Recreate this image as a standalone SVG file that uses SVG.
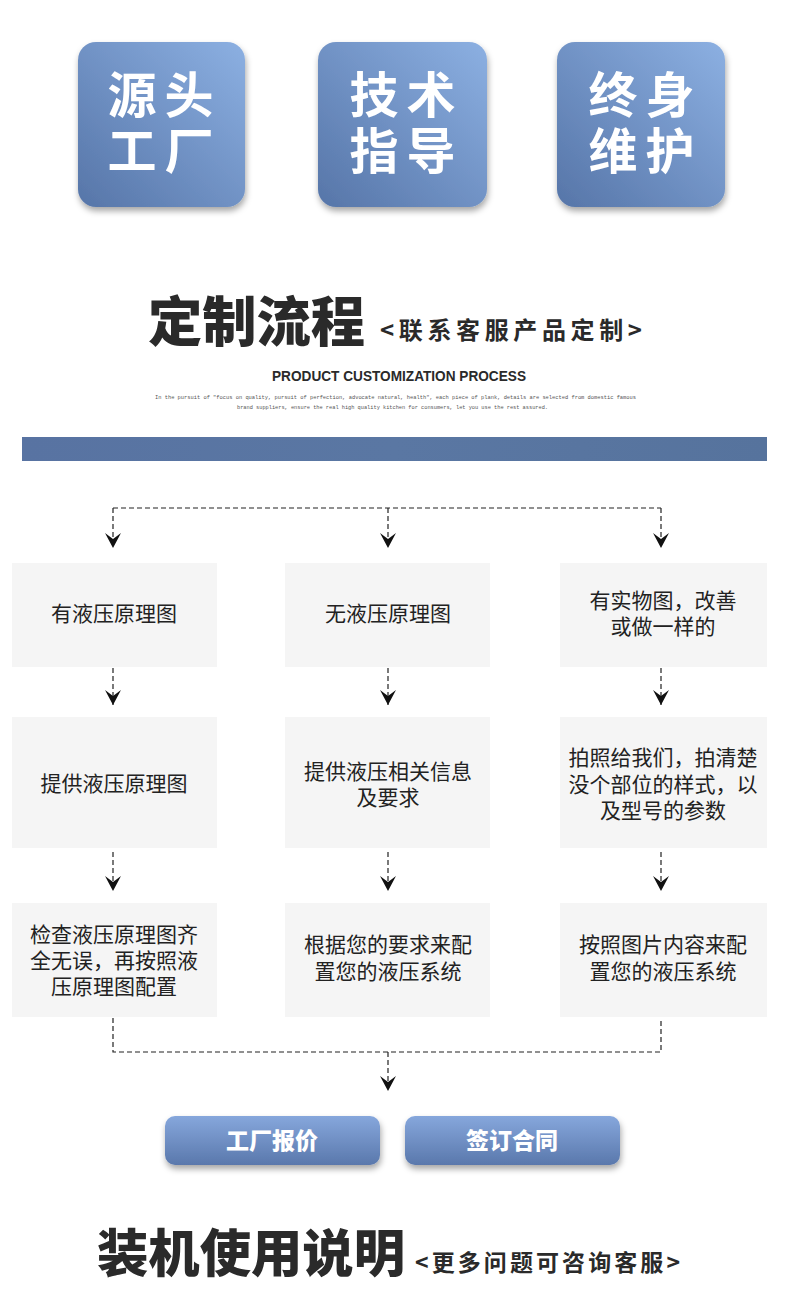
<svg xmlns="http://www.w3.org/2000/svg" width="790" height="1294" viewBox="0 0 790 1294">
<defs>
<linearGradient id="gTop" x1="1" y1="0" x2="0" y2="1">
<stop offset="0" stop-color="#8cb0e2"/>
<stop offset="1" stop-color="#5675a8"/>
</linearGradient>
<linearGradient id="gBtn" x1="0" y1="0" x2="0" y2="1">
<stop offset="0" stop-color="#86a7dc"/>
<stop offset="1" stop-color="#5a78ac"/>
</linearGradient>
<linearGradient id="gBar" x1="0" y1="0" x2="1" y2="0">
<stop offset="0" stop-color="#5873a2"/>
<stop offset="0.5" stop-color="#5a77a3"/>
<stop offset="1" stop-color="#56739d"/>
</linearGradient>
<filter id="shadow" x="-20%" y="-20%" width="140%" height="150%">
<feDropShadow dx="1" dy="4" stdDeviation="3" flood-color="#000" flood-opacity="0.35"/>
</filter>
<marker id="arr" markerUnits="userSpaceOnUse" markerWidth="18" markerHeight="18" viewBox="-16 -9 18 18" refX="0" refY="0" orient="auto">
<path d="M0,0 L-15,-8 L-9,0 L-15,8 Z" fill="#111"/>
</marker>
<style>
.big{font-family:"Liberation Sans","Noto Sans CJK SC",sans-serif;font-weight:700;fill:#fff;font-size:49px;text-anchor:middle}
.node{fill:#f5f5f5}
.t{font-family:"Liberation Sans","Noto Sans CJK SC",sans-serif;font-size:21px;fill:#222;text-anchor:middle}
.btn{font-family:"Noto Sans CJK SC",sans-serif;font-weight:900;font-size:23px;fill:#fff;text-anchor:middle}
.dash{fill:none;stroke:#222;stroke-width:1.2;stroke-dasharray:5 3}
.title{font-family:"Noto Sans CJK SC",sans-serif;font-weight:900;fill:#2a2a2a}
.sub{font-family:"Noto Sans CJK SC",sans-serif;font-weight:700;fill:#2a2a2a}
</style>
</defs>
<rect width="790" height="1294" fill="#fff"/>

<g id="box-source-factory">
<rect x="78" y="42" width="167" height="165" rx="18" fill="url(#gTop)" filter="url(#shadow)"/>
<text class="big"><tspan x="132" y="113">源</tspan><tspan x="189" y="113">头</tspan><tspan x="132" y="169">工</tspan><tspan x="189" y="169">厂</tspan></text>
</g>
<g id="box-tech-guidance">
<rect x="318" y="42" width="169" height="165" rx="18" fill="url(#gTop)" filter="url(#shadow)"/>
<text class="big"><tspan x="374" y="113">技</tspan><tspan x="431" y="113">术</tspan><tspan x="374" y="169">指</tspan><tspan x="431" y="169">导</tspan></text>
</g>
<g id="box-lifetime-maintenance">
<rect x="557" y="42" width="168" height="165" rx="18" fill="url(#gTop)" filter="url(#shadow)"/>
<text class="big"><tspan x="613" y="113">终</tspan><tspan x="670" y="113">身</tspan><tspan x="613" y="169">维</tspan><tspan x="670" y="169">护</tspan></text>
</g>

<text class="title" x="148" y="342" font-size="54" textLength="217" lengthAdjust="spacingAndGlyphs">定制流程</text>
<text class="sub" x="380" y="339" font-size="24" textLength="262" lengthAdjust="spacing">&lt;联系客服产品定制&gt;</text>
<text x="399" y="381" font-family="Liberation Sans, sans-serif" font-weight="700" font-size="15" fill="#2a2a2a" text-anchor="middle" textLength="254" lengthAdjust="spacingAndGlyphs">PRODUCT CUSTOMIZATION PROCESS</text>
<text x="155" y="399" font-family="Liberation Mono, monospace" font-size="5.5" fill="#555" textLength="481" lengthAdjust="spacingAndGlyphs">In the pursuit of "focus on quality, pursuit of perfection, advocate natural, health", each piece of plank, details are selected from domestic famous</text>
<text x="237" y="409" font-family="Liberation Mono, monospace" font-size="5.5" fill="#555" textLength="311" lengthAdjust="spacingAndGlyphs">brand suppliers, ensure the real high quality kitchen for consumers, let you use the rest assured.</text>

<rect x="22" y="437" width="745" height="24" fill="url(#gBar)"/>

<g id="connectors">
<path class="dash" d="M113,508 H661"/>
<path class="dash" d="M113,508 V548" marker-end="url(#arr)"/>
<path class="dash" d="M388,508 V548" marker-end="url(#arr)"/>
<path class="dash" d="M661,508 V548" marker-end="url(#arr)"/>
<path class="dash" d="M113,668 V705" marker-end="url(#arr)"/>
<path class="dash" d="M388,668 V705" marker-end="url(#arr)"/>
<path class="dash" d="M661,668 V705" marker-end="url(#arr)"/>
<path class="dash" d="M113,852 V891" marker-end="url(#arr)"/>
<path class="dash" d="M388,852 V891" marker-end="url(#arr)"/>
<path class="dash" d="M661,852 V891" marker-end="url(#arr)"/>
<path class="dash" d="M113,1018 V1052 H661 V1018"/>
<path class="dash" d="M388,1052 V1091" marker-end="url(#arr)"/>
</g>

<g id="n1-1"><rect class="node" x="12" y="563" width="205" height="104"/>
<text class="t" x="114" y="621">有液压原理图</text></g>
<g id="n1-2"><rect class="node" x="285" y="563" width="205" height="104"/>
<text class="t" x="388" y="621">无液压原理图</text></g>
<g id="n1-3"><rect class="node" x="560" y="563" width="207" height="104"/>
<text class="t"><tspan x="663" y="608">有实物图，改善</tspan><tspan x="663" y="634">或做一样的</tspan></text></g>

<g id="n2-1"><rect class="node" x="12" y="717" width="205" height="131"/>
<text class="t" x="114" y="791">提供液压原理图</text></g>
<g id="n2-2"><rect class="node" x="285" y="717" width="205" height="131"/>
<text class="t"><tspan x="388" y="779">提供液压相关信息</tspan><tspan x="388" y="805">及要求</tspan></text></g>
<g id="n2-3"><rect class="node" x="560" y="717" width="207" height="131"/>
<text class="t"><tspan x="663" y="765">拍照给我们，拍清楚</tspan><tspan x="663" y="792">没个部位的样式，以</tspan><tspan x="663" y="818">及型号的参数</tspan></text></g>

<g id="n3-1"><rect class="node" x="12" y="903" width="205" height="114"/>
<text class="t"><tspan x="114" y="942">检查液压原理图齐</tspan><tspan x="114" y="968">全无误，再按照液</tspan><tspan x="114" y="994">压原理图配置</tspan></text></g>
<g id="n3-2"><rect class="node" x="285" y="903" width="205" height="114"/>
<text class="t"><tspan x="388" y="952">根据您的要求来配</tspan><tspan x="388" y="979">置您的液压系统</tspan></text></g>
<g id="n3-3"><rect class="node" x="560" y="903" width="207" height="114"/>
<text class="t"><tspan x="663" y="952">按照图片内容来配</tspan><tspan x="663" y="979">置您的液压系统</tspan></text></g>

<g id="btn-quote">
<rect x="165" y="1116" width="215" height="49" rx="10" fill="url(#gBtn)" filter="url(#shadow)"/>
<text class="btn" x="272" y="1149">工厂报价</text>
</g>
<g id="btn-contract">
<rect x="405" y="1116" width="215" height="49" rx="10" fill="url(#gBtn)" filter="url(#shadow)"/>
<text class="btn" x="512" y="1149">签订合同</text>
</g>

<text class="title" x="97" y="1272" font-size="51" textLength="308" lengthAdjust="spacingAndGlyphs">装机使用说明</text>
<text class="sub" x="415" y="1271" font-size="23" textLength="265" lengthAdjust="spacing">&lt;更多问题可咨询客服&gt;</text>
</svg>
